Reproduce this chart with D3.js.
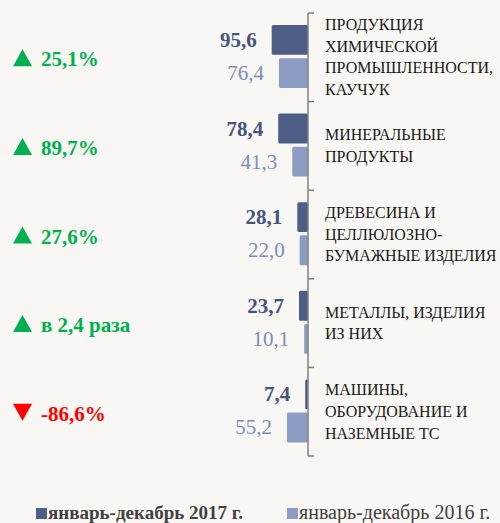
<!DOCTYPE html>
<html lang="ru">
<head>
<meta charset="UTF-8">
<title>Структура</title>
<script src="https://cdn.jsdelivr.net/npm/d3@7"></script>
<style>
  body, html { margin: 0; background: #f8f7f3; }
  svg { display: block; }
</style>
</head>
<body>
<svg id="chart" width="500" height="523"></svg>
<script>
const categories = [
  ["ПРОДУКЦИЯ", "ХИМИЧЕСКОЙ", "ПРОМЫШЛЕННОСТИ,", "КАУЧУК"],
  ["МИНЕРАЛЬНЫЕ", "ПРОДУКТЫ"],
  ["ДРЕВЕСИНА И", "ЦЕЛЛЮЛОЗНО-", "БУМАЖНЫЕ ИЗДЕЛИЯ"],
  ["МЕТАЛЛЫ, ИЗДЕЛИЯ", "ИЗ НИХ"],
  ["МАШИНЫ,", "ОБОРУДОВАНИЕ И", "НАЗЕМНЫЕ ТС"]
];
const values2017 = [95.6, 78.4, 28.1, 23.7, 7.4];
const values2016 = [76.4, 41.3, 22.0, 10.1, 55.2];
const changes = ["25,1%", "89,7%", "27,6%", "в 2,4 раза", "-86,6%"];
const changeUp = [true, true, true, true, false];
const seriesNames = ["январь-декабрь 2017 г.", "январь-декабрь 2016 г."];

const FONT = "Liberation Serif";
const svg = d3.select("#chart").style("font-family", FONT);
const axisX = 308;
const fmt = v => v.toFixed(1).replace(".", ",");

const x = d3.scaleLinear().domain([0, 100]).range([axisX, axisX - 38]);
const y = d3.scaleBand().domain(d3.range(categories.length)).range([13, 456]);
const sub = d3.scaleBand().domain([0, 1]).range([12, 75]).paddingInner(0.1);

const series = [
  {vals: values2017, bar: "#4f5e86", text: "#46557b", weight: "bold"},
  {vals: values2016, bar: "#8c9cc2", text: "#7d8db6", weight: "normal"}
];

series.forEach((s, si) => {
  const g = svg.append("g");
  g.selectAll("rect").data(s.vals).join("rect")
    .attr("x", d => x(d))
    .attr("y", (d, i) => y(i) + sub(si))
    .attr("width", d => axisX - x(d))
    .attr("height", sub.bandwidth())
    .attr("rx", 1.5)
    .attr("fill", s.bar);
  g.selectAll("text").data(s.vals).join("text")
    .style("font-family", FONT)
    .attr("x", d => x(d) - 15)
    .attr("y", (d, i) => y(i) + sub(si) + sub.bandwidth() / 2 + 7)
    .attr("text-anchor", "end")
    .attr("font-size", 21)
    .attr("font-weight", s.weight)
    .attr("fill", s.text)
    .text(d => fmt(d));
});

// axis with ticks at band edges, pointing right
const edges = categories.map((c, i) => y(i)).concat([y.range()[1]]);
const axis = svg.append("g").attr("stroke", "#808080").attr("stroke-width", 1.5);
axis.append("line").attr("x1", axisX).attr("x2", axisX).attr("y1", edges[0]).attr("y2", edges[edges.length - 1]);
axis.selectAll("line.tick").data(edges).join("line").attr("class", "tick")
  .attr("x1", axisX).attr("x2", axisX + 6).attr("y1", d => d).attr("y2", d => d);

// category labels
const lineH = 21.6;
categories.forEach((lines, i) => {
  const cy = y(i) + y.bandwidth() / 2;
  const t = svg.append("text").style("font-family", FONT)
    .attr("font-size", 16).attr("fill", "#1a1a1a");
  lines.forEach((ln, k) => {
    t.append("tspan").attr("x", 325)
      .attr("y", cy + 5.3 + (k - (lines.length - 1) / 2) * lineH)
      .text(ln);
  });
});

// change annotations on the left
changes.forEach((c, i) => {
  const cy = y(i) + y.bandwidth() / 2;
  const col = changeUp[i] ? "#00b050" : "#ff0000";
  const tri = changeUp[i]
    ? [[13, cy + 9], [32, cy + 9], [22.5, cy - 8]]
    : [[13, cy - 8], [32, cy - 8], [22.5, cy + 9]];
  svg.append("path").attr("d", d3.line()(tri) + "Z").attr("fill", col);
  svg.append("text").style("font-family", FONT).attr("x", 41).attr("y", cy + 9)
    .attr("font-size", 21).attr("font-weight", "bold").attr("fill", col)
    .text(c);
});

// legend
const legend = [
  {x: 36, color: series[0].bar, weight: "bold", size: 19},
  {x: 287, color: series[1].bar, weight: "normal", size: 20}
];
legend.forEach((l, i) => {
  svg.append("rect").attr("x", l.x).attr("y", 508).attr("width", 11).attr("height", 11).attr("fill", l.color);
  svg.append("text").style("font-family", FONT).attr("x", l.x + 12).attr("y", 519)
    .attr("font-size", l.size).attr("font-weight", l.weight).attr("fill", "#404040")
    .text(seriesNames[i]);
});
</script>
</body>
</html>
